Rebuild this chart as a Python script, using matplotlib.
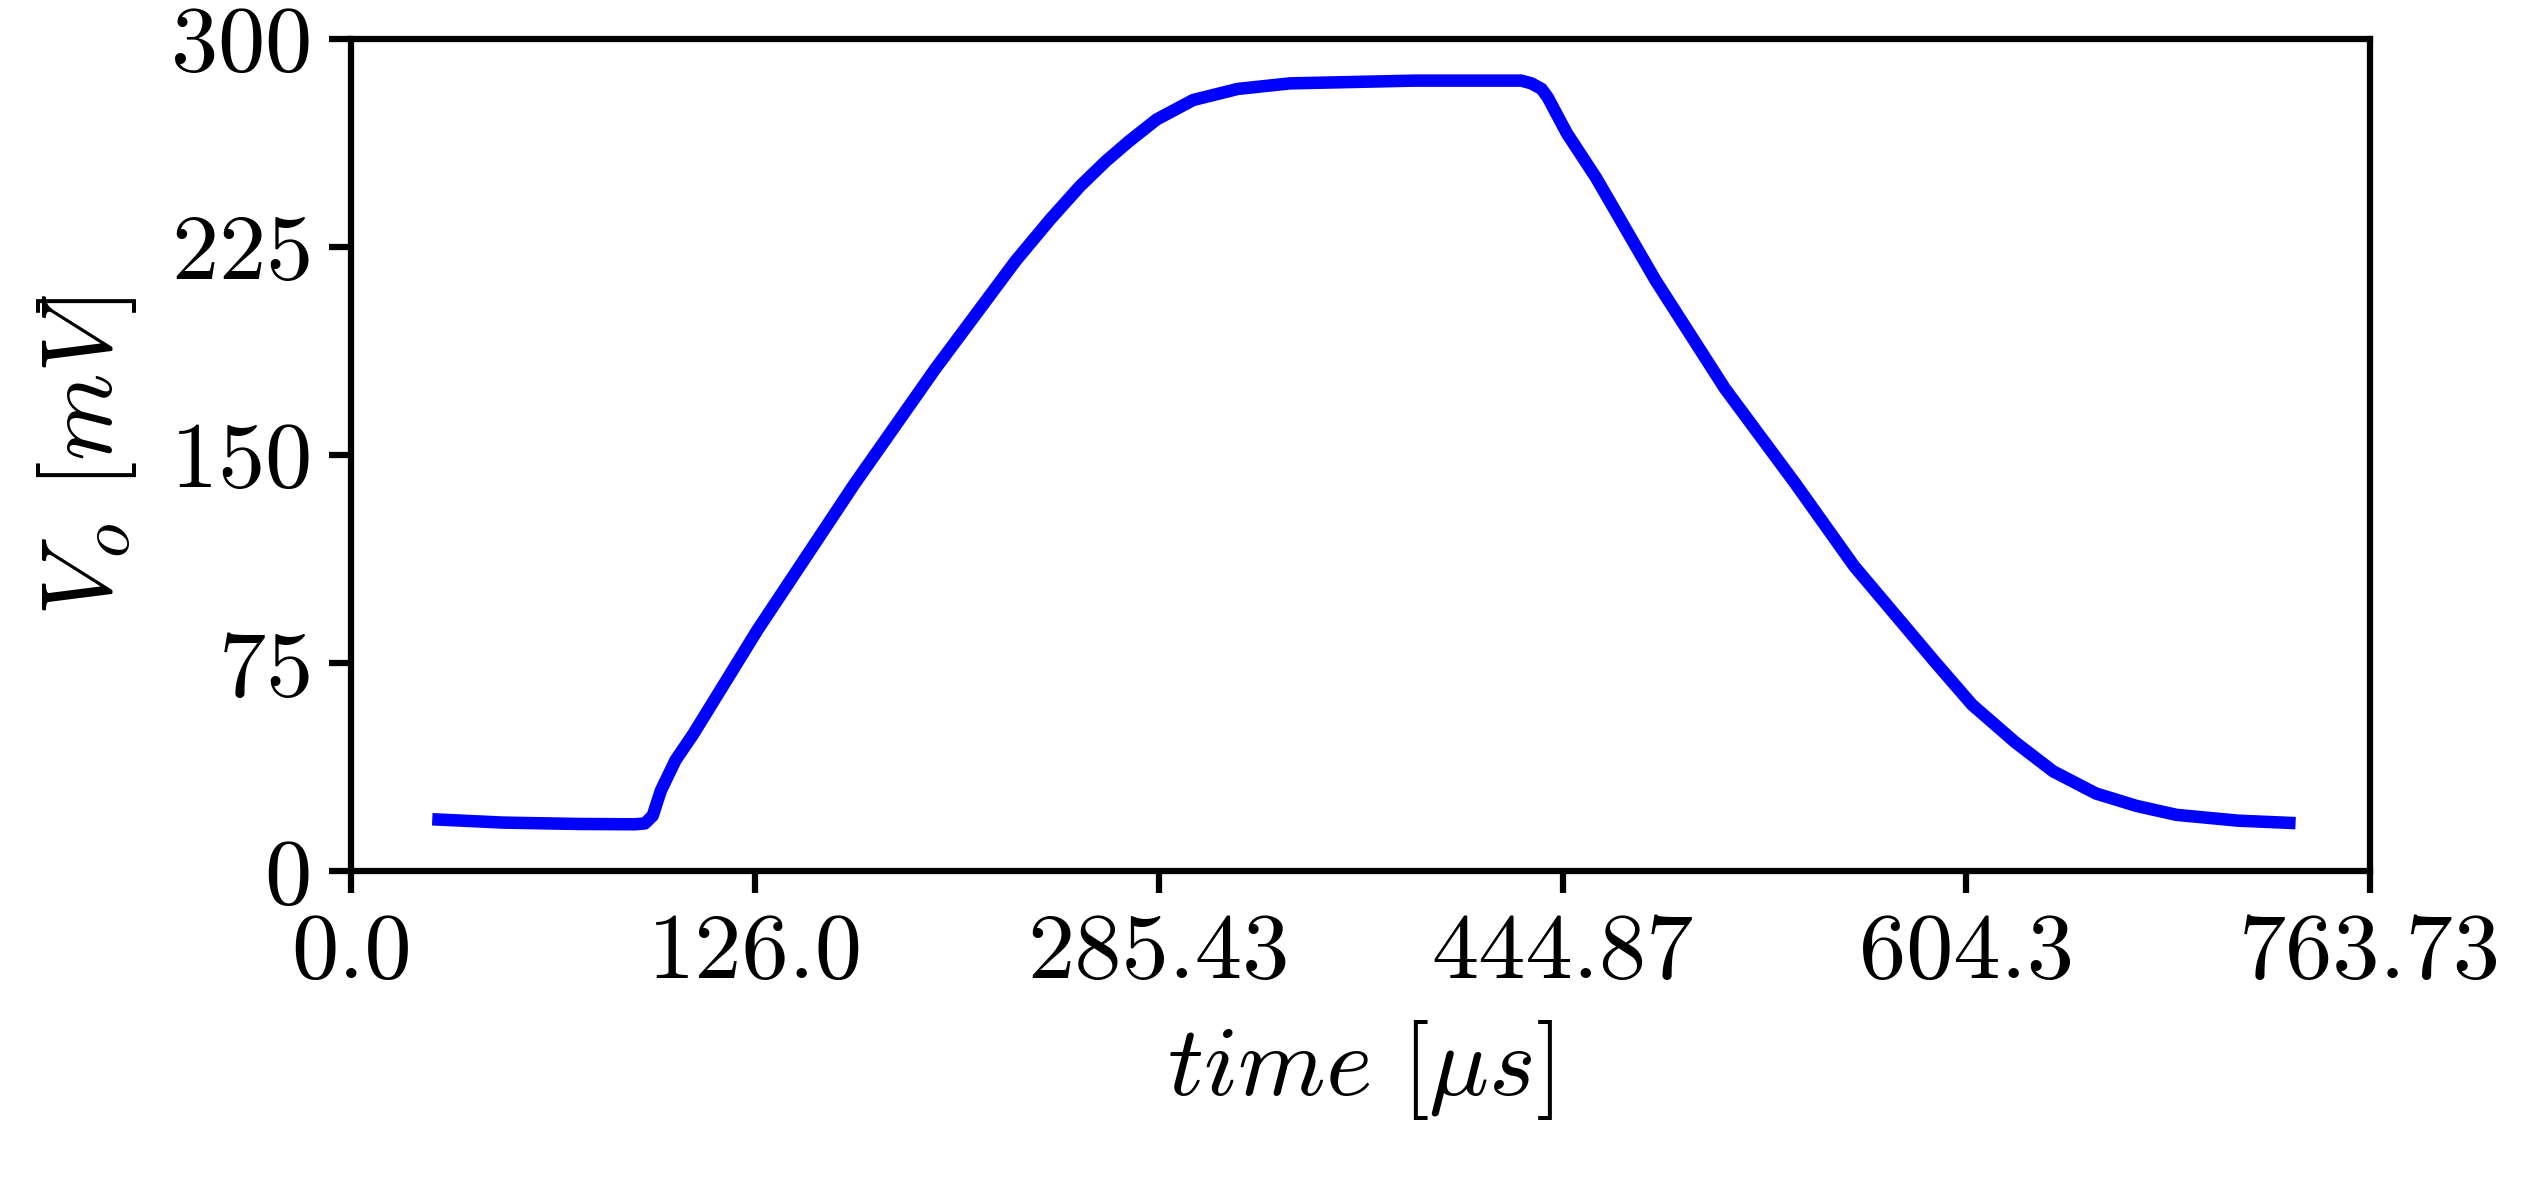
import matplotlib
matplotlib.use("Agg")
import matplotlib.pyplot as plt

plt.rcParams['font.family'] = 'cmr10'
plt.rcParams['mathtext.fontset'] = 'cm'
plt.rcParams['axes.formatter.use_mathtext'] = True

# curve (time in us, Vo in mV)
t = [34.4, 60, 90, 112, 115.9, 119, 122.2, 128, 135, 160.4, 198.6, 230.5, 262.3,
     276, 287.8, 298, 306.9, 318, 332.4, 350, 370.6, 420, 462, 466, 470,
     472.4, 480, 491.5, 515, 542.4, 570, 593.4, 625.2, 640, 657, 672,
     688.9, 705, 720.7, 745, 765.3]
vo = [18.6, 17.5, 17.0, 16.9, 17.2, 20, 29, 40, 49.4, 87, 139.5, 181, 220,
      235, 247, 256, 263, 271, 278, 282, 284, 285, 285, 284, 282,
      279, 266, 250, 213, 174, 140, 110, 75.6, 60, 46.5, 36,
      28, 23.5, 20.3, 18.2, 17.4]

xtick_labels = ['0.0', '126.0', '285.43', '444.87', '604.3', '763.73']
yticks = [0, 75, 150, 225, 300]

fig = plt.figure(figsize=(25.28, 11.82), dpi=100)
ax = fig.add_axes([0.139, 0.263, 0.7985, 0.704])
ax.plot(t, vo, color='blue', lw=9, solid_joinstyle='round')

xmax = 797.15
ax.set_xlim(0, xmax)
ax.set_ylim(0, 300)
ax.set_xticks([i * xmax / 5 for i in range(6)])
ax.set_xticklabels(xtick_labels)
ax.set_yticks(yticks)
ax.tick_params(labelsize=68, width=4.5, length=16, pad=14)
for s in ax.spines.values():
    s.set_linewidth(4.5)
ax.set_xlabel(r'$time\ [\mu s]$', fontsize=72, labelpad=16)
ax.set_ylabel(r'$V_o\ [mV]$', fontsize=72, labelpad=22)

fig.savefig('out.png', dpi=100)
